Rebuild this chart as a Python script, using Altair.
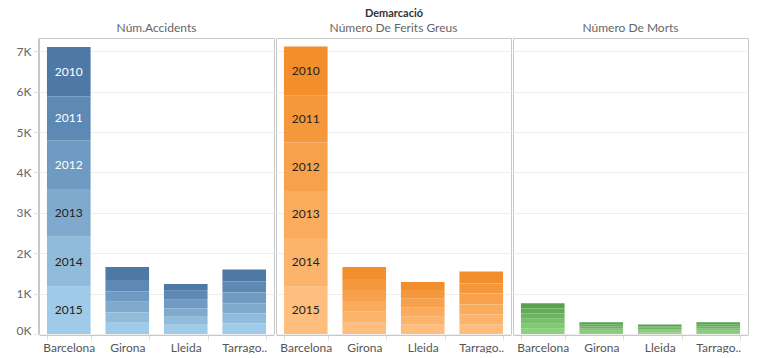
import altair as alt
import pandas as pd

demarcacions = ["Barcelona", "Girona", "Lleida", "Tarragona"]
anys = [2010, 2011, 2012, 2013, 2014, 2015]
mesures = ["Núm.Accidents", "Número De Ferits Greus", "Número De Morts"]

# values per year (2010..2015) for each demarcació
accidents = {
    "Barcelona": [1220, 1090, 1210, 1180, 1240, 1170],
    "Girona": [320, 280, 260, 270, 250, 280],
    "Lleida": [170, 220, 220, 200, 200, 230],
    "Tarragona": [300, 270, 270, 250, 250, 260],
}
ferits_greus = {
    "Barcelona": [1220, 1150, 1210, 1160, 1210, 1170],
    "Girona": [300, 270, 270, 270, 270, 280],
    "Lleida": [200, 220, 220, 220, 200, 230],
    "Tarragona": [300, 250, 270, 250, 250, 230],
}
morts = {
    "Barcelona": [130, 125, 125, 125, 125, 130],
    "Girona": [50, 50, 45, 50, 45, 50],
    "Lleida": [40, 40, 40, 35, 40, 40],
    "Tarragona": [50, 50, 50, 45, 45, 50],
}

color_pairs = {
    "Núm.Accidents": ("#4e79a7", "#a0cbe8"),
    "Número De Ferits Greus": ("#f28e2b", "#ffbe7d"),
    "Número De Morts": ("#59a14f", "#8cd17d"),
}

rows = []
for m, vals in zip(mesures, [accidents, ferits_greus, morts]):
    for d in demarcacions:
        for a, v in zip(anys, vals[d]):
            rows.append({"mesura": m, "demarcacio": d, "any": a, "valor": v,
                         "clau": f"{m}|{a}"})
df = pd.DataFrame(rows)


def hex2rgb(h):
    h = h.lstrip("#")
    return [int(h[i:i + 2], 16) for i in (0, 2, 4)]


def ramp(c1, c2, n):
    a, b = hex2rgb(c1), hex2rgb(c2)
    out = []
    for i in range(n):
        t = i / (n - 1)
        out.append("#" + "".join(f"{round(a[k] + (b[k] - a[k]) * t):02x}" for k in range(3)))
    return out


dom, rng = [], []
for m in mesures:
    for a, c in zip(anys, ramp(*color_pairs[m], len(anys))):
        dom.append(f"{m}|{a}")
        rng.append(c)

FONT = "Lato"

base = alt.Chart().transform_stack(
    stack="valor",
    groupby=["mesura", "demarcacio"],
    as_=["v0", "v1"],
    sort=[alt.SortField("any", order="descending")],
).transform_calculate(mid="(datum.v0 + datum.v1) / 2")

x_enc = alt.X(
    "demarcacio:N",
    sort=demarcacions,
    scale=alt.Scale(paddingInner=0.254, paddingOuter=0.136),
    axis=alt.Axis(
        title=None, labelAngle=0, tickBand="extent", labelFontSize=12,
        labelColor="#555555", labelFont=FONT, labelPadding=2,
        domainColor="#c8c8c8", tickColor="#dddddd", tickSize=5,
        labelExpr="datum.label == 'Tarragona' ? 'Tarrago..' : datum.label",
    ),
)

y_scale = alt.Scale(domain=[0, 7330], nice=False, zero=True)

bars = base.mark_bar().encode(
    x=x_enc,
    y=alt.Y(
        "v0:Q",
        scale=y_scale,
        axis=alt.Axis(
            title=None, values=[0, 1000, 2000, 3000, 4000, 5000, 6000, 7000],
            labelExpr="(datum.value / 1000) + 'K'", labelFontSize=12,
            labelColor="#666666", labelFont=FONT, gridColor="#eeeeee",
            domainColor="#c8c8c8", tickColor="#e4e4e4", tickSize=5,
            labelPadding=2, labelFlush=True, labelFlushOffset=3,
        ),
    ),
    y2="v1:Q",
    color=alt.Color("clau:N", scale=alt.Scale(domain=dom, range=rng), legend=None),
)

labels = base.transform_filter(
    "datum.demarcacio == 'Barcelona' && datum.mesura != 'Número De Morts'"
).mark_text(fontSize=12, font=FONT).encode(
    x=alt.X("demarcacio:N", sort=demarcacions),
    y=alt.Y("mid:Q", scale=y_scale),
    text=alt.Text("any:N"),
    color=alt.condition(
        "datum.mesura == 'Núm.Accidents' && datum.any <= 2012",
        alt.value("#ffffff"),
        alt.value("#222222"),
    ),
)

chart = alt.layer(bars, labels, data=df).properties(
    width=235, height=296
).facet(
    column=alt.Column(
        "mesura:N",
        sort=mesures,
        header=alt.Header(
            title="Demarcació", titleOrient="top", labelOrient="top",
            titleFontSize=11, titleFontWeight="bold", titleColor="#333333",
            titleFont=FONT, labelFont=FONT, labelFontSize=12,
            labelColor="#666666", labelPadding=2, titlePadding=-7,
        ),
    ),
    spacing=0,
).properties(
    padding={"left": 8, "top": 0, "right": 0, "bottom": 0}
).configure_view(
    stroke="#c8c8c8"
)

chart.save("out.html", embed_options={"renderer": "svg", "actions": False})
